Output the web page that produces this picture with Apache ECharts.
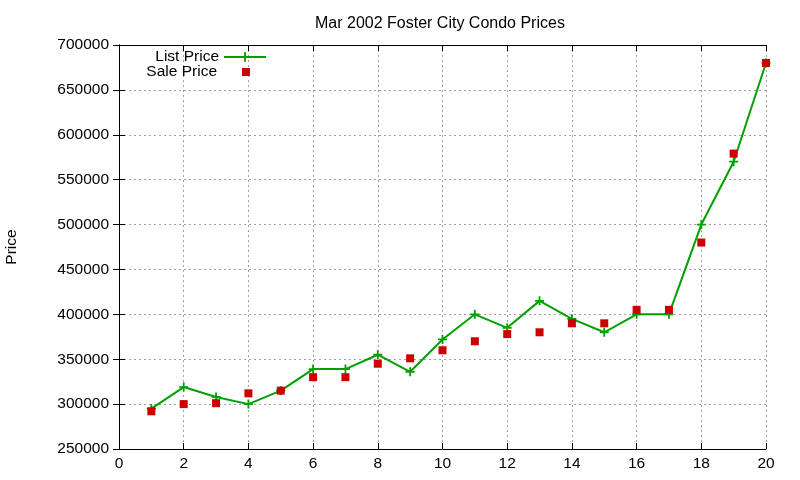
<!DOCTYPE html>
<html><head><meta charset="utf-8">
<script src="https://cdn.jsdelivr.net/npm/echarts@6/dist/echarts.min.js"></script>
<style>html,body{margin:0;padding:0;background:#fff}#c{width:800px;height:480px}</style>
</head><body><div id="c"></div>
<script>
const xValues = [1,2,3,4,5,6,7,8,9,10,11,12,13,14,15,16,17,18,19,20];
const listPrice = [295000,319000,308000,300000,315000,339000,339000,355000,336000,372000,400000,385000,415000,395000,380000,400000,400000,500000,570000,680000];
const salePrice = [292000,300000,301000,312000,315000,330000,330000,345000,351000,360000,370000,378000,380000,390000,390000,405000,405000,480000,579000,680000];
const xTicks = {min:0, max:20, interval:2};
const yTicks = {min:250000, max:700000, interval:50000};

const plusPath = 'path://M4,0H6V4H10V6H6V10H4V6H0V4H4Z';
const font = 'Liberation Sans, Arial, sans-serif';
const fs = 15.5;
const gridLine = {show:true, lineStyle:{color:'#a0a0a0', type:[2,3], width:1}};

const chart = echarts.init(document.getElementById('c'));
chart.setOption({
  animation:false,
  backgroundColor:'#fff',
  textStyle:{fontFamily:font},
  title:{text:'Mar 2002 Foster City Condo Prices', left:310, top:11,
    textStyle:{fontSize:16, fontWeight:'normal', color:'#000', fontFamily:font}},
  legend:[
    {data:['List Price'], orient:'vertical', right:528, top:44, align:'right',
     itemWidth:42, itemHeight:12, textStyle:{fontSize:fs, color:'#000', fontFamily:font}},
    {data:[{name:'Sale Price', icon:'rect'}], orient:'vertical', right:545, top:59, align:'right',
     itemWidth:8, itemHeight:8, textStyle:{fontSize:fs, color:'#000', fontFamily:font, padding:[0,20,0,0]}}
  ],
  grid:{left:119, right:34, top:45, bottom:31, outerBoundsMode:'none', containLabel:false},
  xAxis:[
    {type:'value', min:xTicks.min, max:xTicks.max, interval:xTicks.interval,
     axisLine:{lineStyle:{color:'#000', width:1}}, axisTick:{inside:true, length:6, lineStyle:{color:'#000'}},
     axisLabel:{color:'#000', fontSize:fs, margin:7, fontFamily:font}, splitLine:gridLine},
    {type:'value', position:'top', min:xTicks.min, max:xTicks.max, interval:xTicks.interval,
     axisLine:{show:true, lineStyle:{color:'#000', width:1}}, axisTick:{show:true, inside:true, length:6, lineStyle:{color:'#000'}},
     axisLabel:{show:false}, splitLine:{show:false}}
  ],
  yAxis:[
    {type:'value', min:yTicks.min, max:yTicks.max, interval:yTicks.interval,
     name:'Price', nameLocation:'middle', nameGap:99, nameRotate:90,
     nameTextStyle:{fontSize:fs, color:'#000', fontFamily:font},
     axisLine:{show:true, lineStyle:{color:'#000', width:1}}, axisTick:{show:true, inside:true, length:6, lineStyle:{color:'#000'}},
     axisLabel:{color:'#000', fontSize:fs, margin:10, fontFamily:font, formatter:v=>String(v)}, splitLine:gridLine},
    {type:'value', position:'right', min:yTicks.min, max:yTicks.max, interval:yTicks.interval,
     axisLine:{show:true, lineStyle:{color:'#000', width:1}}, axisTick:{show:true, inside:true, length:6, lineStyle:{color:'#000'}},
     axisLabel:{show:false}, splitLine:{show:false}}
  ],
  series:[
    {name:'List Price', type:'line', xAxisIndex:0, yAxisIndex:0,
     data:xValues.map((x,i)=>[x,listPrice[i]]),
     symbol:plusPath, symbolSize:9, showAllSymbol:true,
     lineStyle:{color:'#00a000', width:2}, itemStyle:{color:'#00a000'}, z:2},
    {name:'Sale Price', type:'scatter', xAxisIndex:0, yAxisIndex:0,
     data:xValues.map((x,i)=>[x,salePrice[i]]),
     symbol:'rect', symbolSize:8, itemStyle:{color:'#cc0000', opacity:1}, z:3}
  ]
});
</script></body></html>
